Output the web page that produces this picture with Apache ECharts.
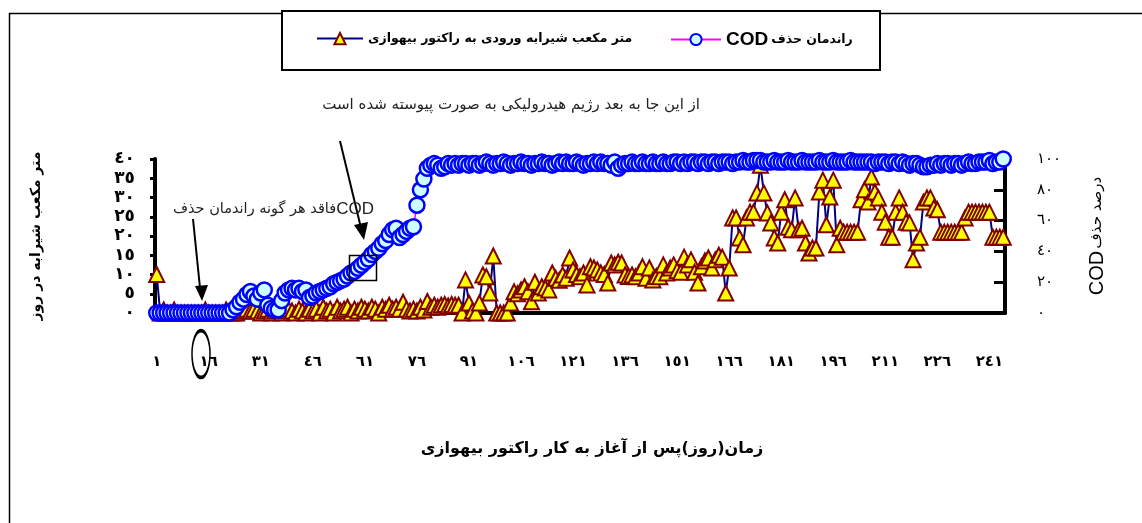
<!DOCTYPE html>
<html>
<head>
<meta charset="utf-8">
<script src="https://cdn.jsdelivr.net/npm/echarts@6/dist/echarts.min.js"></script>
<style>
  html, body { margin: 0; padding: 0; background: #fff; }
  #chart { width: 1142px; height: 523px; }
</style>
</head>
<body>
<div id="chart"></div>
<script>
// روزها (دسته‌های محور افقی)
const days = [];
for (let d = 1; d <= 245; d++) days.push(String(d));

// راندمان حذف COD (درصد) - محور راست
const codRemoval = [
  0, 0, 0, 0, 0, 0, 0, 0, 0, 0,
  0, 0, 0, 0, 0, 0, 0, 0, 0, 0,
  0, 0, 2, 4, 7, 9, 12, 14, 11, 9,
  13, 15, 5, 3, 2, 2, 8, 13, 15, 16,
  15, 16, 14, 15, 10, 11, 13, 14, 15, 16,
  17, 19, 20, 21, 22, 24, 26, 27, 29, 31,
  33, 35, 38, 40, 42, 45, 47, 51, 54, 55,
  49, 51, 53, 55, 56, 70, 80, 87, 94, 96,
  97, 96, 94, 95, 97, 96, 97, 96, 97, 97,
  96, 97, 97, 96, 97, 98, 97, 96, 97, 97,
  98, 97, 96, 97, 97, 98, 97, 97, 96, 97,
  97, 98, 97, 97, 96, 97, 98, 97, 98, 97,
  97, 98, 97, 96, 97, 97, 98, 97, 98, 97,
  97, 96, 98, 94, 96, 97, 97, 98, 97, 97,
  98, 97, 97, 98, 97, 97, 98, 97, 97, 98,
  98, 97, 98, 97, 98, 98, 97, 98, 98, 97,
  98, 98, 97, 98, 98, 98, 97, 98, 98, 99,
  98, 98, 99, 99, 99, 98, 98, 98, 99, 98,
  98, 98, 99, 98, 98, 98, 99, 98, 98, 98,
  98, 99, 98, 98, 98, 99, 98, 98, 98, 98,
  99, 98, 98, 98, 98, 98, 98, 97, 98, 98,
  98, 97, 98, 98, 97, 98, 97, 96, 97, 97,
  96, 95, 95, 96, 96, 97, 96, 97, 97, 96,
  97, 97, 96, 97, 98, 97, 97, 98, 98, 98,
  99, 97, 98, 98, 100
];

// متر مکعب شیرابه ورودی در روز - محور چپ
const inflow = [
  10, 0, 0.8, 0, 0, 0.8, 0, 0, 0, 0,
  0, 0, 0, 0, 0.8, 0, 0, 0, 0, 0,
  0.8, 0, 0, 0, 0.5, 0.5, 1, 0.5, 1, 0.5,
  0, 0.5, 1, 0, 0.5, 1, 0, 0.5, 1, 0.5,
  0, 1, 0.5, 0, 1, 0.5, 1, 0, 1.5, 0.5,
  1, 0, 1.5, 0.5, 1, 1.5, 0, 1, 0.5, 1.5,
  1, 0.5, 1.5, 1, 0, 1.5, 1, 2, 1, 1.5,
  1, 2.8, 1, 0.5, 1, 0.5, 1.5, 0.8, 3, 1.5,
  2, 1.5, 2, 2.2, 1.8, 2.2, 2, 2, 0, 8.6,
  2.6, 0.5, 0, 2.6, 9.9, 9.4, 5.2, 14.8, 0, 0,
  0, 0, 2.6, 5.5, 5, 6, 6.8, 5.5, 2.9, 8,
  5.2, 6.8, 6.5, 6, 10.4, 9, 8.5, 9.9, 9, 14.3,
  11.2, 10, 9.4, 10.4, 7.3, 12, 11.7, 11.2, 10.4, 10,
  7.8, 13, 12.5, 13.2, 13, 9.9, 9.5, 9.9, 9.4, 10.4,
  12, 9, 11.7, 8.6, 9.5, 9.4, 12.5, 10.4, 11.7, 12.5,
  11, 10.6, 14.5, 12.5, 13.8, 10.6, 7.8, 12, 13.5, 14.3,
  11.7, 13.8, 15, 14.5, 5.2, 11.7, 24.7, 24.7, 19.5, 17.7,
  24.7, 26.2, 26.2, 31.2, 38.4, 31.2, 26, 23.4, 19.5, 18.2,
  26.2, 29.4, 22.3, 21.6, 29.9, 21.6, 22, 18.2, 15.6, 16.9,
  16.9, 31.4, 34.5, 22.9, 30.1, 34.5, 17.7, 22, 21, 21,
  21, 21, 21, 29.4, 32, 28.8, 35.3, 31.4, 29.9, 26.2,
  23.6, 19.7, 19.7, 26.2, 29.9, 26.2, 23.6, 23.4, 13.8, 18.2,
  19.7, 28.8, 29.9, 29.9, 27.3, 26.8, 21, 21, 21, 21,
  21, 21, 21, 24.7, 26.2, 26.2, 26.2, 26.2, 26.2, 26.2,
  26.2, 19.7, 19.7, 19.7, 19.7
];

// برچسب‌های محورها
const xTickLabels = ['١', '١٦', '٣١', '٤٦', '٦١', '٧٦', '٩١', '١٠٦', '١٢١', '١٣٦', '١٥١', '١٦٦', '١٨١', '١٩٦', '٢١١', '٢٢٦', '٢٤١'];
const leftTickLabels = ['٠', '٥', '١٠', '١٥', '٢٠', '٢٥', '٣٠', '٣٥', '٤٠'];
const rightTickLabels = ['٠', '٢٠', '٤٠', '٦٠', '٨٠', '١٠٠'];

const inflowName = 'متر مکعب شیرابه ورودی به راکتور بیهوازی';
const codName = 'راندمان حذف COD';

const FONT = 'DejaVu Sans';

const myChart = echarts.init(document.getElementById('chart'));

const option = {
  animation: false,
  backgroundColor: '#fff',
  textStyle: { fontFamily: FONT },
  grid: { left: 155, right: 137, top: 159, bottom: 210 },
  legend: [
    {
      data: [inflowName],
      left: 311, top: 27,
      itemWidth: 46, itemHeight: 14,
      textStyle: { fontSize: 12.5, fontWeight: 'bold', color: '#000', fontFamily: FONT }
    },
    {
      data: [codName],
      left: 665, top: 25,
      itemWidth: 50, itemHeight: 14,
      formatter: () => '{c|COD}{t|راندمان حذف}',
      textStyle: {
        color: '#000',
        rich: {
          c: { fontSize: 19, fontWeight: 'bold', fontFamily: 'Liberation Sans', color: '#000' },
          t: { fontSize: 12.5, fontWeight: 'bold', fontFamily: FONT, color: '#000', padding: [0, 0, 0, 3] }
        }
      }
    }
  ],
  xAxis: {
    type: 'category',
    data: days,
    boundaryGap: true,
    axisLine: { lineStyle: { color: '#000', width: 4 } },
    axisTick: { interval: 14, length: 6, lineStyle: { color: '#000', width: 3 } },
    axisLabel: {
      interval: 14, margin: 42, fontSize: 15, fontWeight: 'bold', color: '#000',
      formatter: (v, i) => xTickLabels[i / 15]
    },
    splitLine: { show: false },
    name: 'زمان(روز)پس از آغاز به کار راکتور بیهوازی',
    nameLocation: 'middle',
    nameGap: 128,
    nameTextStyle: { fontSize: 16, fontWeight: 'bold', color: '#000', padding: [0, 0, 0, 24] }
  },
  yAxis: [
    {
      type: 'value', position: 'left', min: 0, max: 40, interval: 5,
      axisLine: { show: true, lineStyle: { color: '#000', width: 4 } },
      axisTick: { show: true, length: 5, lineStyle: { color: '#000', width: 3 } },
      axisLabel: {
        margin: 20, fontSize: 17, fontWeight: 'bold', color: '#000',
        padding: [0, 0, 10, 0],
        formatter: v => leftTickLabels[v / 5]
      },
      splitLine: { show: false },
      name: 'متر مکعب شیرابه در روز',
      nameLocation: 'middle',
      nameRotate: 90,
      nameGap: 112,
      nameTextStyle: { fontSize: 14, fontWeight: 'bold', color: '#000' }
    },
    {
      type: 'value', position: 'right', min: 0, max: 100, interval: 20,
      axisLine: { show: true, lineStyle: { color: '#000', width: 4 } },
      axisTick: { show: true, inside: true, length: 11, lineStyle: { color: '#000', width: 3 } },
      axisLabel: {
        margin: 32, fontSize: 15, color: '#000',
        padding: [0, 0, 8, 0],
        formatter: v => rightTickLabels[v / 20]
      },
      splitLine: { show: false },
      name: '{c|COD}{t|درصد حذف}',
      nameLocation: 'middle',
      nameRotate: 90,
      nameGap: 82,
      nameTextStyle: {
        color: '#000',
        rich: {
          c: { fontSize: 20, fontFamily: 'Liberation Sans', color: '#000' },
          t: { fontSize: 15, fontFamily: FONT, color: '#000', padding: [0, 0, 0, 2] }
        }
      }
    }
  ],
  series: [
    {
      name: inflowName,
      type: 'line',
      yAxisIndex: 0,
      data: inflow,
      symbol: 'triangle',
      symbolSize: 15,
      showAllSymbol: true,
      lineStyle: { color: '#000080', width: 2 },
      itemStyle: { color: '#FFFF00', borderColor: '#800000', borderWidth: 2 },
      emphasis: { disabled: true },
      z: 2
    },
    {
      name: codName,
      type: 'line',
      yAxisIndex: 1,
      data: codRemoval,
      symbol: 'circle',
      symbolSize: 15,
      showAllSymbol: true,
      lineStyle: { color: '#FF00FF', width: 1.5 },
      itemStyle: { color: '#CCFFFF', borderColor: '#0000FF', borderWidth: 2.5 },
      emphasis: { disabled: true },
      z: 3
    }
  ],
  graphic: [
    // کادر بیرونی
    { type: 'rect', silent: true, z: -10,
      shape: { x: 9.5, y: 13.5, width: 1140, height: 520 },
      style: { fill: null, stroke: '#000', lineWidth: 1.5 } },
    // کادر راهنما
    { type: 'rect', silent: true,
      shape: { x: 282, y: 11, width: 598, height: 59 },
      style: { fill: '#fff', stroke: '#000', lineWidth: 2 }, z: -5 },
    // توضیح بالا
    { type: 'text', silent: true,
      style: { text: 'از این جا به بعد رژیم هیدرولیکی به صورت پیوسته شده است',
        x: 700, y: 105, align: 'right', verticalAlign: 'middle',
        font: '15px "DejaVu Sans"', fill: '#222' } },
    { type: 'line', silent: true,
      shape: { x1: 340, y1: 141, x2: 361, y2: 228 },
      style: { stroke: '#000', lineWidth: 2 } },
    { type: 'polygon', silent: true,
      shape: { points: [[354, 225], [368, 222], [364, 240]] },
      style: { fill: '#000' } },
    { type: 'rect', silent: true,
      shape: { x: 349.5, y: 255.5, width: 27, height: 25 },
      style: { fill: null, stroke: '#000', lineWidth: 1.5 }, z: 10 },
    // توضیح COD
    { type: 'text', silent: true,
      style: { text: '{t|فاقد هر گونه راندمان حذف}{c|COD}',
        x: 374, y: 209, align: 'right', verticalAlign: 'middle', fill: '#222',
        rich: {
          t: { fontSize: 14.5, fontFamily: FONT, fill: '#222' },
          c: { fontSize: 17, fontFamily: 'Liberation Sans', fill: '#222' }
        } } },
    { type: 'line', silent: true,
      shape: { x1: 193, y1: 219, x2: 200, y2: 288 },
      style: { stroke: '#000', lineWidth: 2 } },
    { type: 'polygon', silent: true,
      shape: { points: [[195, 286], [208, 285], [202, 301]] },
      style: { fill: '#000' } },
    // بیضی زیر روز ۱۶
    { type: 'circle', silent: true, x: 201, y: 354, scaleY: 2.6,
      shape: { cx: 0, cy: 0, r: 9 },
      style: { fill: null, stroke: '#000', lineWidth: 1.5, strokeNoScale: true } }
  ]
};

myChart.setOption(option);
</script>
</body>
</html>
